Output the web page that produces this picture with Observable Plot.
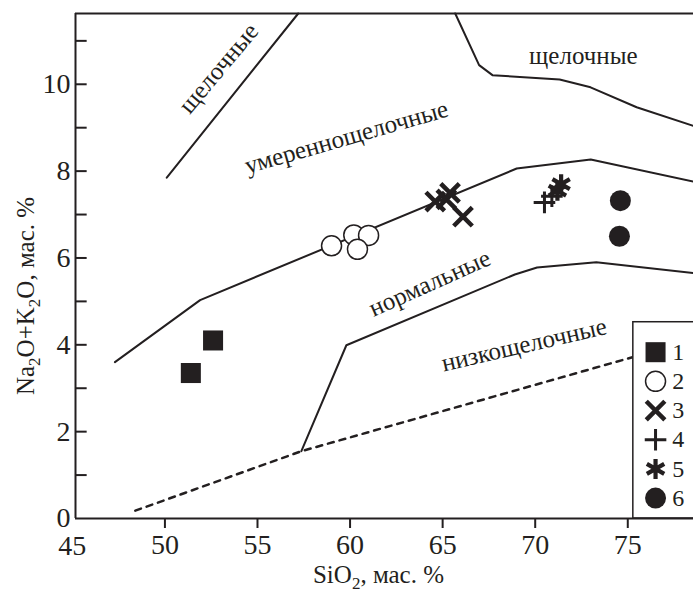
<!DOCTYPE html>
<html><head><meta charset="utf-8">
<script src="https://cdn.jsdelivr.net/npm/d3@7"></script>
<script src="https://cdn.jsdelivr.net/npm/@observablehq/plot@0.6"></script>
<style>body{margin:0;background:#fff}svg{display:block}</style>
</head><body><div id="chart"></div>
<script>
// ---- data (SiO2, Na2O+K2O, wt %) ----
const g1SiO2 = [51.4, 52.6];              const g1Alk = [3.35, 4.1];
const g2SiO2 = [59.0, 60.2, 61.0, 60.4];  const g2Alk = [6.28, 6.53, 6.52, 6.2];
const g3SiO2 = [64.6, 65.2, 65.4, 66.1];  const g3Alk = [7.3, 7.35, 7.5, 6.95];
const g4SiO2 = [70.5, 70.9];              const g4Alk = [7.28, 7.42];
const g5SiO2 = [71.2, 71.4];              const g5Alk = [7.55, 7.7];
const g6SiO2 = [74.6, 74.55];             const g6Alk = [7.32, 6.5];

// field boundaries
const modNormX = [47.3, 51.9, 69.0, 73.0, 78.55];
const modNormY = [3.6, 5.03, 8.06, 8.27, 7.76];
const normLowX = [57.37, 59.8, 68.9, 70.1, 73.3, 78.55];
const normLowY = [1.55, 3.99, 5.62, 5.78, 5.9, 5.65];
const dashX = [48.4, 57.37, 75.3];
const dashY = [0.18, 1.55, 3.72];
const alkLeftX = [50.1, 57.2];
const alkLeftY = [7.85, 11.63];
const alkRightX = [65.68, 66.97, 67.69, 71.32, 72.99, 75.48, 78.55];
const alkRightY = [11.63, 10.44, 10.21, 10.11, 9.93, 9.47, 9.04];

// field labels
const fieldNames = ["щелочные", "щелочные", "умереннощелочные", "нормальные", "низкощелочные"];
const fieldX = [52.9, 72.6, 59.8, 64.3, 69.4];
const fieldY = [10.37, 10.65, 8.78, 5.42, 4.0];
const fieldRot = [-50, 0, -16, -24, -13];

const xTicks = [50, 55, 60, 65, 70, 75];
const yTicks = [0, 1, 2, 3, 4, 5, 6, 7, 8, 9, 10, 11];
const yLabels = [0, 2, 4, 6, 8, 10];
const legendLabels = ["1", "2", "3", "4", "5", "6"];

const X0 = 45.17, X1 = 78.55, Y1 = 11.63;
const ink = "#231f20";
const font = "'Liberation Serif', 'Times New Roman', serif";

const pts = (xs, ys) => xs.map((x, i) => ({x, y: ys[i]}));

// legend layout (positions inside the legend box)
const legTop = 4.52, legStep = 0.672, legFirst = 3.83;
const legSymX = 76.5, legTextX = 77.4;
const leg = legendLabels.map((t, i) => ({x: legSymX, tx: legTextX, y: legFirst - i * legStep, t}));

const styles = [
  {symbol: "square", r: 11.3, fill: ink, stroke: "none", strokeWidth: 0},
  {symbol: "circle", r: 10, fill: "white", stroke: ink, strokeWidth: 1.5},
  {symbol: "times", r: 8.5, fill: "none", stroke: ink, strokeWidth: 4.5},
  {symbol: "plus", r: 7, fill: "none", stroke: ink, strokeWidth: 3},
  {symbol: "asterisk", r: 9.5, fill: "none", stroke: ink, strokeWidth: 4.2},
  {symbol: "circle", r: 10.5, fill: ink, stroke: "none", strokeWidth: 0}
];
const groups = [pts(g1SiO2, g1Alk), pts(g2SiO2, g2Alk), pts(g3SiO2, g3Alk), pts(g4SiO2, g4Alk), pts(g5SiO2, g5Alk), pts(g6SiO2, g6Alk)];

const fields = fieldNames.map((t, i) => ({t, x: fieldX[i], y: fieldY[i], r: fieldRot[i]}));

const lineOpts = {x: "x", y: "y", stroke: ink, strokeWidth: 2, curve: "linear"};

const chart = Plot.plot({
  width: 693, height: 592,
  marginTop: 13, marginLeft: 75, marginRight: 0, marginBottom: 74,
  style: {fontFamily: font, background: "white", color: ink},
  x: {domain: [X0, X1]},
  y: {domain: [0, Y1]},
  marks: [
    Plot.line(pts(modNormX, modNormY), lineOpts),
    Plot.line(pts(normLowX, normLowY), lineOpts),
    Plot.line(pts(alkLeftX, alkLeftY), lineOpts),
    Plot.line(pts(alkRightX, alkRightY), lineOpts),
    Plot.line(pts(dashX, dashY), {...lineOpts, strokeWidth: 2.5, strokeDasharray: "6,6"}),
    Plot.text(fields, {x: "x", y: "y", text: "t", rotate: "r", fontSize: 25, fill: ink}),
    ...groups.map((g, i) => Plot.dot(g, {x: "x", y: "y", ...styles[i]})),
    // legend box
    Plot.rect([{}], {x1: 75.3, x2: X1 + 1, y1: 0, y2: legTop, fill: "white", stroke: ink, strokeWidth: 1.5}),
    ...styles.map((s, i) => Plot.dot([leg[i]], {x: "x", y: "y", ...s})),
    Plot.text(leg, {x: "tx", y: "y", text: "t", textAnchor: "start", fontSize: 24, fill: ink}),
    // frame
    Plot.ruleY([0], {stroke: ink, strokeWidth: 2}),
    Plot.ruleY([Y1], {stroke: ink, strokeWidth: 2}),
    Plot.ruleX([X0], {stroke: ink, strokeWidth: 2}),
    // y ticks pointing inward
    Plot.ruleY(yTicks.filter(d => d > 0), {x1: X0, x2: X0 + 0.63, stroke: ink, strokeWidth: 2}),
    // axes
    Plot.axisX({ticks: xTicks, tickSize: 10, tickPadding: 6, fontSize: 28, label: null, stroke: ink, strokeWidth: 2, fill: ink}),
    Plot.text(["45"], {x: () => 45, text: d => d, frameAnchor: "bottom", dy: 17, lineAnchor: "top", fontSize: 28, fill: ink}),
    Plot.axisY({ticks: yLabels, tickSize: 0, tickPadding: 5, fontSize: 28, label: null, fill: ink}),
    Plot.text(["SiO2, мас. %"], {text: d => d, frameAnchor: "bottom", dy: 47, dx: -6, lineAnchor: "top", textAnchor: "middle", fontSize: 25, fill: ink}),
    Plot.text(["Na2O+K2O, мас. %"], {text: d => d, frameAnchor: "left", dx: -50, dy: 30, rotate: -90, textAnchor: "middle", fontSize: 25, fill: ink})
  ]
});
document.getElementById("chart").appendChild(chart);

function subscript(el, parts) {
  el.textContent = "";
  const ns = "http://www.w3.org/2000/svg";
  let shifted = false;
  for (const [s, sub] of parts) {
    const t = document.createElementNS(ns, "tspan");
    t.textContent = s;
    if (sub) { t.setAttribute("dy", "6"); t.setAttribute("font-size", "17"); shifted = true; }
    else if (shifted) { t.setAttribute("dy", "-6"); shifted = false; }
    el.appendChild(t);
  }
}
d3.select(chart).selectAll("text").each(function() {
  const s = this.textContent;
  if (s === "SiO2, мас. %") subscript(this, [["SiO", 0], ["2", 1], [", мас. %", 0]]);
  if (s === "Na2O+K2O, мас. %") subscript(this, [["Na", 0], ["2", 1], ["O+K", 0], ["2", 1], ["O, мас. %", 0]]);
});
</script>
</body></html>
